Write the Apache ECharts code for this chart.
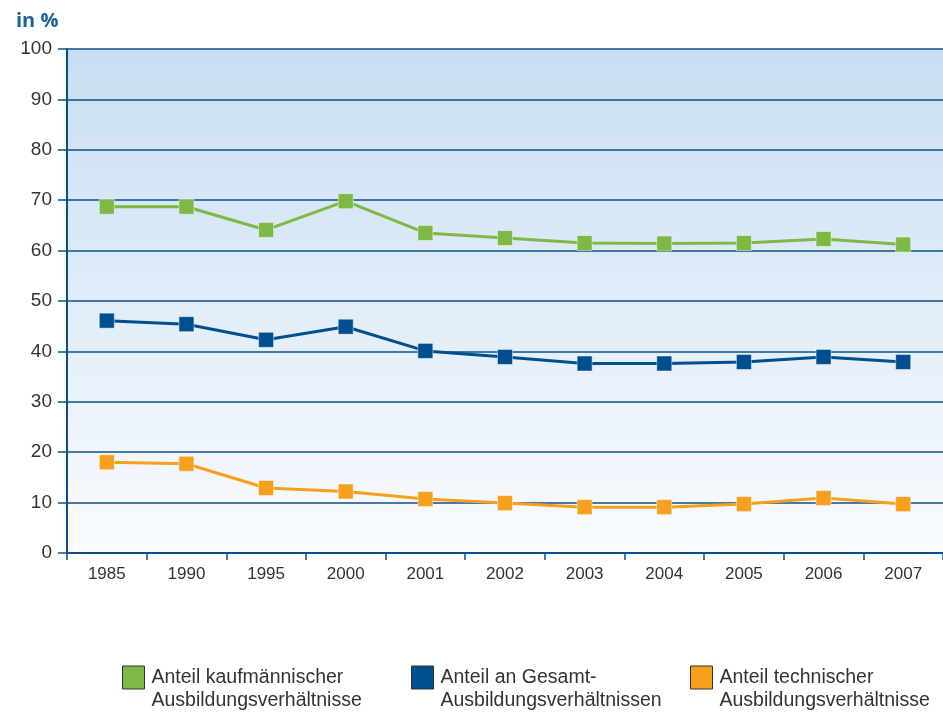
<!DOCTYPE html>
<html>
<head>
<meta charset="utf-8">
<script src="https://cdn.jsdelivr.net/npm/echarts@6/dist/echarts.min.js"></script>
<style>
  html, body { margin: 0; padding: 0; background: #ffffff; }
  #chart { width: 943px; height: 716px; }
</style>
</head>
<body>
<div id="chart"></div>
<script>
// Jahre (Kategorien)
const years = ['1985', '1990', '1995', '2000', '2001', '2002', '2003', '2004', '2005', '2006', '2007'];
// Anteile in %
const kaufmaennisch = [68.7, 68.7, 64.1, 69.8, 63.5, 62.5, 61.5, 61.4, 61.5, 62.3, 61.2];
const gesamt = [46.1, 45.4, 42.3, 44.9, 40.1, 38.9, 37.6, 37.6, 37.9, 38.9, 37.9];
const technisch = [18.0, 17.7, 12.9, 12.2, 10.7, 9.9, 9.1, 9.1, 9.7, 10.9, 9.7];
const seriesNames = [
  'Anteil kaufmännischer\nAusbildungsverhältnisse',
  'Anteil an Gesamt-\nAusbildungsverhältnissen',
  'Anteil technischer\nAusbildungsverhältnisse'
];
const colors = ['#7db944', '#004f8f', '#f6a01e'];

const chart = echarts.init(document.getElementById('chart'));
const font = '"Liberation Sans", sans-serif';

// one legend block per series; a leading empty line keeps the icon on the first text line
function legendAt (idx, left) {
  return {
    data: [seriesNames[idx]],
    left: left,
    top: 643,
    padding: 0,
    icon: 'rect',
    itemWidth: 22,
    itemHeight: 23,
    itemGap: 0,
    selectedMode: false,
    formatter: function (name) { return '\n' + name },
    itemStyle: { borderColor: '#333333', borderWidth: 1 },
    textStyle: {
      fontFamily: font,
      fontSize: 19.5,
      color: '#333333',
      lineHeight: 23,
      padding: [0, 0, 0, 2]
    }
  }
}

function lineSeries (idx, data) {
  return {
    name: seriesNames[idx],
    type: 'line',
    data: data,
    symbol: 'rect',
    symbolSize: 15,
    lineStyle: { color: colors[idx], width: 3 },
    itemStyle: { color: colors[idx], borderColor: 'rgba(255,255,255,0.45)', borderWidth: 1 },
    z: 3
  }
}

chart.setOption({
  animation: false,
  color: colors,
  title: {
    text: 'in %',
    left: 11,
    top: 6,
    textStyle: { fontFamily: '"Open Sans", sans-serif', fontSize: 20, fontWeight: 'bold', color: '#1c62a0' }
  },
  legend: [legendAt(0, 122), legendAt(1, 411), legendAt(2, 690)],
  grid: {
    left: 67,
    top: 49,
    width: 881,
    height: 504,
    show: true,
    borderWidth: 0,
    backgroundColor: new echarts.graphic.LinearGradient(0, 0, 0, 1, [
      { offset: 0, color: '#c8def3' },
      { offset: 1, color: '#f9fbfe' }
    ])
  },
  xAxis: {
    type: 'category',
    data: years,
    boundaryGap: true,
    axisLine: { lineStyle: { color: '#0b4f8a', width: 2 } },
    axisTick: { show: true, alignWithLabel: false, length: 7, lineStyle: { color: '#0b4f8a', width: 1.5 } },
    axisLabel: { fontFamily: font, fontSize: 17, color: '#333333', margin: 13 }
  },
  yAxis: {
    type: 'value',
    min: 0,
    max: 100,
    interval: 10,
    axisLine: { show: true, lineStyle: { color: '#0b4f8a', width: 2 } },
    axisTick: { show: true, length: 9, lineStyle: { color: '#0b4f8a', width: 1.5 } },
    axisLabel: { fontFamily: font, fontSize: 19, color: '#333333', margin: 15 },
    splitLine: { show: true, lineStyle: { color: '#0b4f8a', width: 1.5 } }
  },
  series: [
    lineSeries(0, kaufmaennisch),
    lineSeries(1, gesamt),
    lineSeries(2, technisch)
  ]
});
</script>
</body>
</html>
